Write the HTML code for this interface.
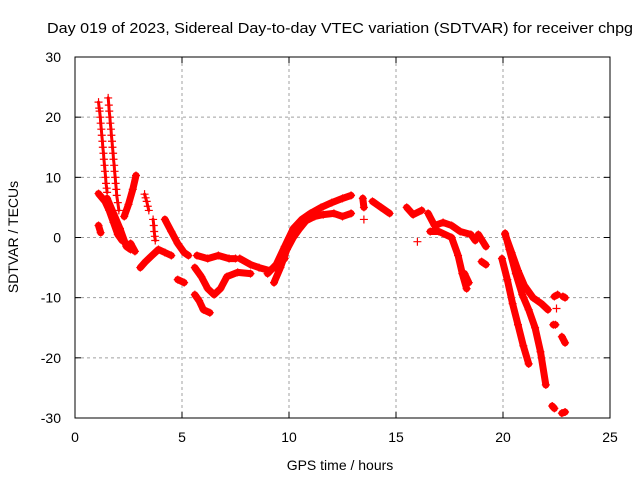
<!DOCTYPE html>
<html><head><meta charset="utf-8"><style>
body{margin:0;background:#fff}
svg text{font-family:"Liberation Sans",sans-serif;font-size:14px;fill:#000}
</style></head><body>
<svg id="chart" width="640" height="480" xmlns="http://www.w3.org/2000/svg">
<rect width="640" height="480" fill="#fff"/>
<g id="grid"></g>
<g id="marks"></g>
<rect x="75" y="57" width="535" height="361" fill="none" stroke="#000" stroke-width="1"/>
<g id="ticks"></g>
<text x="47" y="33" textLength="586" lengthAdjust="spacingAndGlyphs" style="font-size:15px">Day 019 of 2023, Sidereal Day-to-day VTEC variation (SDTVAR) for receiver chpg</text>
<text x="340" y="470" text-anchor="middle">GPS time / hours</text>
<text transform="translate(18,237) rotate(-90)" text-anchor="middle">SDTVAR / TECUs</text>
</svg>
<script>
const xTicks=[0,5,10,15,20,25];
const yTicks=[30,20,10,0,-10,-20,-30];
const spikeA=[[1.1,22.5],[1.13,21.5],[1.15,21],[1.18,20],[1.2,19],[1.23,18],[1.25,17],[1.28,16],[1.3,15],[1.33,14],[1.35,13],[1.38,12],[1.4,11],[1.43,10],[1.45,9],[1.48,8.2],[1.5,7.5]];
const spikeB=[[1.55,23.2],[1.58,22],[1.6,21],[1.63,20],[1.65,19],[1.68,18],[1.7,17],[1.73,16],[1.75,15],[1.78,14],[1.8,13],[1.83,12],[1.85,11],[1.88,10],[1.9,9],[1.93,8],[1.95,7],[2.0,5.8],[2.05,4.5]];
const trackC=[[1.1,7.3],[1.4,6],[1.6,4.5],[1.8,2.5],[2.0,0.5],[2.2,-0.5]];
const trackC2=[[1.5,6.5],[1.8,4],[2.1,1.5],[2.4,-1.5],[2.6,-2]];
const blob1=[[1.1,2],[1.2,0.8]];
const trackD=[[2.3,3.5],[2.5,5.5],[2.7,8],[2.85,10.3]];
const blob2=[[3.25,7.2],[3.3,6.6],[3.35,6],[3.4,5.2],[3.45,4.5]];
const blob3=[[2.6,-1],[2.8,-2.3]];
const trackE=[[3.05,-5],[3.3,-4],[3.6,-3],[3.9,-2],[4.2,-2.5],[4.5,-3]];
const blob4=[[3.65,3],[3.68,2],[3.7,1],[3.73,0.2],[3.75,-0.5]];
const trackF=[[4.2,3],[4.5,1],[4.8,-1],[5.1,-2.5],[5.3,-3]];
const blob5=[[4.8,-7],[5.1,-7.5]];
const trackG=[[5.7,-3],[6.2,-3.5],[6.7,-3],[7.2,-3.5],[7.5,-3.5]];
const trackH=[[5.6,-5],[5.9,-6.5],[6.2,-8.5],[6.5,-9.5],[6.8,-8.5],[7.1,-6.5],[7.6,-5.8],[8.2,-6]];
const trackI=[[5.6,-9.5],[5.8,-10.5],[6.0,-12],[6.3,-12.5]];
const trackJ=[[7.7,-3.5],[8.2,-4.5],[8.6,-5],[9.1,-5.5],[9.5,-4.5],[9.8,-3.5]];
const trackK=[[9.0,-6],[9.4,-4.5],[9.8,-1.5],[10.2,1.5],[10.6,3],[11,4],[11.5,5],[12,5.8],[12.5,6.5],[12.9,7]];
const trackL=[[9.3,-7.5],[9.6,-5],[9.9,-2],[10.2,0],[10.5,1.5],[10.8,2.8],[11.2,3.5],[11.6,3.8],[12.1,4],[12.5,3.5],[12.9,4]];
const blob6=[[13.45,6.5],[13.5,5]];
const blob7=[[13.5,3]];
const trackM=[[13.9,6],[14.3,5],[14.7,4]];
const trackN=[[15.5,5],[15.8,3.8],[16.2,4.5]];
const blob8=[[16,-0.7]];
const trackO=[[16.5,4],[16.8,2],[17.2,2.5],[17.6,2],[18,1],[18.5,0.5],[18.7,-0.5]];
const trackP=[[16.6,1],[17.0,1],[17.6,0],[17.9,-3],[18.1,-6],[18.3,-8.5]];
const trackQ=[[18.2,-6],[18.4,-7.5]];
const blob9=[[18.85,0.5],[19.2,-1.5]];
const blob10=[[19.0,-4],[19.2,-4.5]];
const trackR=[[19.95,-3.5],[20.2,-7],[20.45,-11],[20.7,-14.5],[20.95,-18],[21.2,-21]];
const trackS=[[20.1,0.7],[20.3,-2],[20.6,-6],[20.9,-9.5],[21.2,-12],[21.5,-15],[21.75,-19],[22.0,-24.5]];
const trackT=[[20.1,0.5],[20.4,-2.5],[20.7,-5.5],[21.0,-8],[21.4,-10],[21.8,-11],[22.1,-12]];
const blob11=[[22.4,-9.8],[22.55,-9.5]];
const blob12=[[22.8,-9.8],[22.9,-10]];
const blob13=[[22.5,-11.8]];
const blob14=[[22.35,-14.5],[22.45,-14.5]];
const blob15=[[22.75,-16.5],[22.9,-17.5]];
const blob16=[[22.3,-28],[22.4,-28.4]];
const blob17=[[22.75,-29.2],[22.9,-29]];
const thickSeries=[trackC,trackC2,blob1,trackD,blob3,trackE,trackF,blob5,trackG,trackH,trackI,trackJ,trackK,trackL,blob6,trackM,trackN,blob8,trackO,trackP,trackQ,blob9,blob10,trackR,trackS,trackT,blob11,blob12,blob14,blob15,blob16,blob17];
const thinSeries=[spikeA,spikeB,blob2,blob4,blob7,blob13];

const NS="http://www.w3.org/2000/svg";
const X0=75,X1=610,Y0=418,Y1=57;
function sx(v){return X0+(v-0)/25*(X1-X0);}
function sy(v){return Y0-(v+30)/60*(Y0-Y1);}
function mk(tag,attrs,parent){const e=document.createElementNS(NS,tag);for(const k in attrs)e.setAttribute(k,attrs[k]);parent.appendChild(e);return e;}
const grid=document.getElementById('grid'),ticks=document.getElementById('ticks'),marks=document.getElementById('marks');
xTicks.forEach(t=>{
  const x=sx(t);
  if(t>0&&t<25){const g=mk('line',{x1:x,x2:x,y1:Y1,y2:Y0,stroke:'#a0a0a0','stroke-dasharray':'3,3'},grid);
  
  }
  mk('line',{x1:x,x2:x,y1:Y0,y2:Y0-6,stroke:'#000'},ticks);
  mk('line',{x1:x,x2:x,y1:Y1,y2:Y1+6,stroke:'#000'},ticks);
  const l=mk('text',{x:x,y:442,'text-anchor':'middle'},ticks);l.textContent=t;
  
  
});
yTicks.forEach(t=>{
  const y=sy(t);
  if(t>-30&&t<30){const g=mk('line',{x1:X0,x2:X1,y1:y,y2:y,stroke:'#a0a0a0','stroke-dasharray':'3,3'},grid);
  
  }
  mk('line',{x1:X0,x2:X0+6,y1:y,y2:y,stroke:'#000'},ticks);
  mk('line',{x1:X1,x2:X1-6,y1:y,y2:y,stroke:'#000'},ticks);
  const l=mk('text',{x:61,y:y+5,'text-anchor':'end'},ticks);l.textContent=t;
  
  
});
function drawSeries(s,w){
  const d=s.map((p,i)=>(i?'L':'M')+sx(p[0]).toFixed(1)+','+sy(p[1]).toFixed(1)).join('');
  if(w>0){const p=mk('path',{d:d,fill:'none',stroke:'#ff0000','stroke-width':w,'stroke-linecap':'round','stroke-linejoin':'round'},marks);
  
  }
  s.forEach(pt=>{
    const x=sx(pt[0]),y=sy(pt[1]);
    const m=mk('path',{d:`M${x-4},${y}h8M${x},${y-4}v8`,stroke:'#ff0000','stroke-width':1.2},marks);
    
    
  });
}
thickSeries.forEach(s=>drawSeries(s,7));
thinSeries.forEach(s=>drawSeries(s,3));
</script>
</body></html>
